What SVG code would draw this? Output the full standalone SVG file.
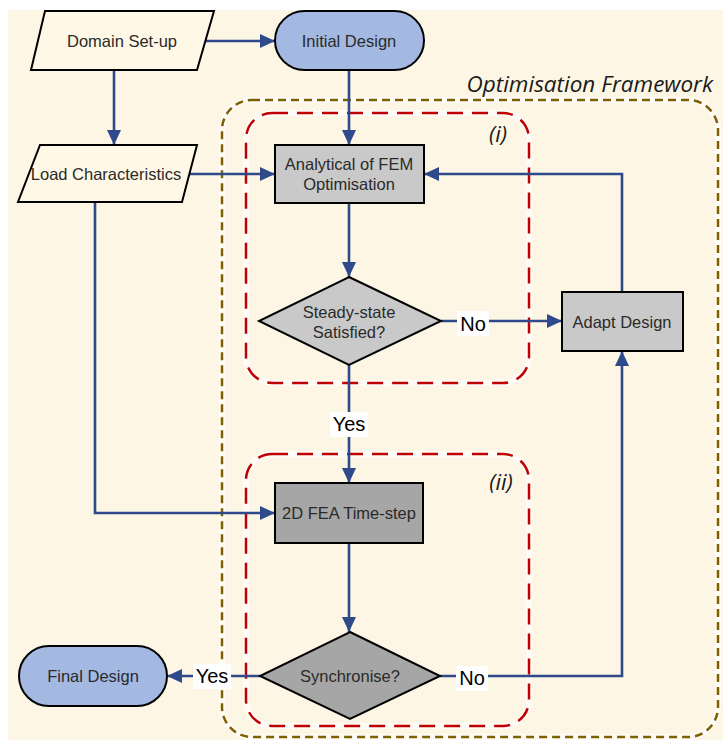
<svg xmlns="http://www.w3.org/2000/svg" width="723" height="740" viewBox="0 0 723 740">
<defs>
<marker id="ah" markerUnits="userSpaceOnUse" markerWidth="16" markerHeight="14" refX="15" refY="7" orient="auto">
<path d="M0,0 L15,7 L0,14 z" fill="#2E4A8B"/>
</marker>
<style>
.t{font-family:"Liberation Sans",Arial,sans-serif;font-size:16.5px;fill:#2a2a2a;text-anchor:middle;dominant-baseline:central}
.lbl{font-family:"Liberation Sans",Arial,sans-serif;font-size:20px;fill:#000;text-anchor:middle;dominant-baseline:central}
.it{font-family:"Open Sans","DejaVu Sans",sans-serif;font-style:italic;fill:#1a1a1a}
.c{fill:none;stroke:#2E4A8B;stroke-width:2.6;marker-end:url(#ah)}
.n{stroke:#000;stroke-width:2}
.glow{fill:none;stroke:#ffffff;stroke-opacity:0.7;stroke-width:6}
</style>
</defs>
<rect x="8" y="10" width="715" height="730" fill="#FDF6E4"/>
<g id="frames">
<rect x="222" y="100" width="496" height="637" rx="30" class="glow"/>
<rect x="222" y="100" width="496" height="637" rx="30" fill="none" stroke="#7F6000" stroke-width="2.5" stroke-dasharray="8 5"/>
<rect x="246" y="113" width="283" height="270" rx="26" class="glow"/>
<rect x="246" y="113" width="283" height="270" rx="26" fill="none" stroke="#C00000" stroke-width="2.5" stroke-dasharray="16 9"/>
<rect x="246" y="454" width="283" height="272" rx="26" class="glow"/>
<rect x="246" y="454" width="283" height="272" rx="26" fill="none" stroke="#C00000" stroke-width="2.5" stroke-dasharray="16 9"/>
<text x="713" y="92" class="it" font-size="22.5" text-anchor="end">Optimisation Framework</text>
<text x="498" y="142" class="it" font-size="22" text-anchor="middle">(i)</text>
<text x="501" y="490" class="it" font-size="22" text-anchor="middle">(ii)</text>
</g>
<g id="connectors">
<path class="c" d="M204,41 H275"/>
<path class="c" d="M114,70 V145"/>
<path class="c" d="M349,70 V145"/>
<path class="c" d="M185,174 H275"/>
<path class="c" d="M349,203 V277"/>
<path class="c" d="M441,321 H562"/>
<path class="c" d="M622,292 V174 H424"/>
<path class="c" d="M349,365 V483"/>
<path class="c" d="M95,202 V513 H275"/>
<path class="c" d="M349,543 V632"/>
<path class="c" d="M260,676 H167"/>
<path class="c" d="M440,676 H622 V351"/>
<rect x="457" y="311" width="32" height="25" fill="#fff"/>
<text x="473" y="324" class="lbl">No</text>
<rect x="330" y="412" width="38" height="25" fill="#fff"/>
<text x="349" y="424" class="lbl">Yes</text>
<rect x="193" y="664" width="38" height="25" fill="#fff"/>
<text x="212" y="676" class="lbl">Yes</text>
<rect x="456" y="666" width="32" height="25" fill="#fff"/>
<text x="472" y="678" class="lbl">No</text>
</g>
<g id="domain">
<polygon points="45,11 214,11 197,70 31,70" fill="#FFF8E6" class="n"/>
<text x="122" y="41" class="t">Domain Set-up</text>
</g>
<g id="initial">
<rect x="275" y="11" width="149" height="59" rx="29.5" fill="#A4B9E2" class="n"/>
<text x="349" y="41" class="t">Initial Design</text>
</g>
<g id="load">
<polygon points="40,145 197,145 182,202 18,202" fill="#FFF8E6" class="n"/>
<text x="106" y="174" class="t">Load Characteristics</text>
</g>
<g id="analytical">
<rect x="275" y="145" width="149" height="58" fill="#C9C9C9" class="n"/>
<text x="349" y="164" class="t">Analytical of FEM</text>
<text x="349" y="184" class="t">Optimisation</text>
</g>
<g id="steady">
<polygon points="349,277 441,321 349,365 259,321" fill="#C9C9C9" class="n"/>
<text x="349" y="312" class="t" font-size="15">Steady-state</text>
<text x="349" y="332" class="t" font-size="15">Satisfied?</text>
</g>
<g id="adapt">
<rect x="562" y="292" width="121" height="59" fill="#C9C9C9" class="n"/>
<text x="622" y="322" class="t">Adapt Design</text>
</g>
<g id="fea">
<rect x="275" y="483" width="148" height="60" fill="#A6A6A6" class="n"/>
<text x="349" y="513" class="t" font-size="15.5">2D FEA Time-step</text>
</g>
<g id="sync">
<polygon points="350,632 440,676 350,719 260,676" fill="#A6A6A6" class="n"/>
<text x="350" y="676" class="t" font-size="15.5">Synchronise?</text>
</g>
<g id="final">
<rect x="19" y="646" width="148" height="60" rx="30" fill="#A4B9E2" class="n"/>
<text x="93" y="676" class="t">Final Design</text>
</g>
</svg>
